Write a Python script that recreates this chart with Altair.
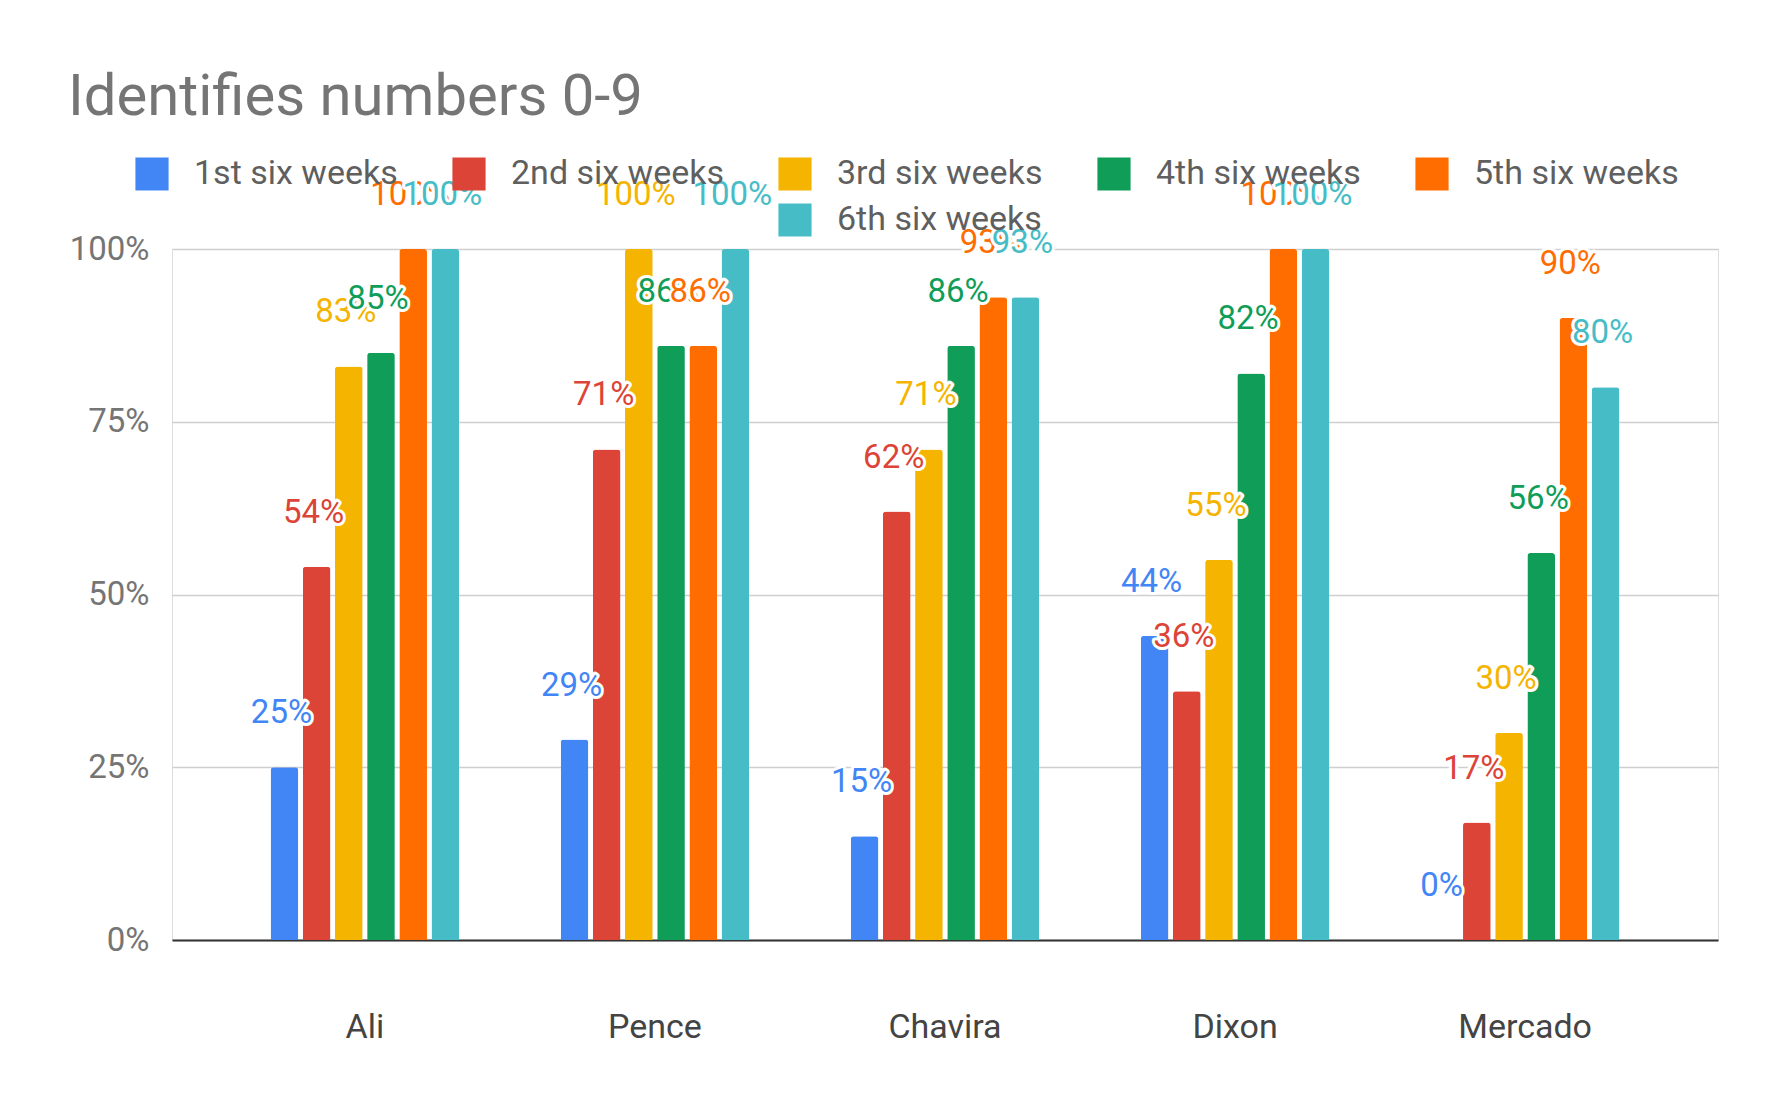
import altair as alt
import pandas as pd

students = ["Ali", "Pence", "Chavira", "Dixon", "Mercado"]
series = ["1st six weeks", "2nd six weeks", "3rd six weeks",
          "4th six weeks", "5th six weeks", "6th six weeks"]
first_six = [25, 29, 15, 44, 0]
second_six = [54, 71, 62, 36, 17]
third_six = [83, 100, 71, 55, 30]
fourth_six = [85, 86, 86, 82, 56]
fifth_six = [100, 86, 93, 100, 90]
sixth_six = [100, 100, 93, 100, 80]
colors = ["#4285F4", "#DB4437", "#F4B400", "#0F9D58", "#FF6D00", "#46BDC6"]
y_ticks = [0, 25, 50, 75, 100]
title_text = "Identifies numbers 0-9"

all_vals = [first_six, second_six, third_six, fourth_six, fifth_six, sixth_six]
rows = []
for s, vals in zip(series, all_vals):
    for st, v in zip(students, vals):
        rows.append({"student": st, "period": s, "pct": v})
df = pd.DataFrame(rows)

FONT = "Roboto"

x_enc = alt.X(
    "student:N", sort=students, title=None,
    scale=alt.Scale(domain=students, paddingInner=0.35, paddingOuter=0.34),
    axis=alt.Axis(labelFontSize=34, labelColor="#444444", labelFont=FONT,
                  labelPadding=70, ticks=False, domainColor="#333333",
                  domainWidth=2, labelAngle=0, grid=False),
)
xoff_enc = alt.XOffset("period:N", sort=series,
                       scale=alt.Scale(domain=series, paddingInner=0.14, paddingOuter=0))
y_enc = alt.Y(
    "pct:Q", title=None,
    scale=alt.Scale(domain=[0, 100], nice=False),
    axis=alt.Axis(values=y_ticks, labelExpr="datum.value + '%'",
                  labelFontSize=33, labelColor="#757575", labelFont=FONT,
                  labelPadding=23, ticks=False, domain=False,
                  gridColor="#cfcfcf", gridWidth=1.5),
)

base = alt.Chart(df)

legend_common = dict(
    orient="none", direction="horizontal", symbolType="square",
    symbolSize=1100, symbolStrokeWidth=0, labelFontSize=34,
    labelColor="#5f5f5f", labelFont=FONT, labelOffset=25, title=None,
    padding=0, labelLimit=400,
)

bars_a = base.transform_filter(
    alt.FieldOneOfPredicate(field="period", oneOf=series[:5])
).mark_bar(cornerRadiusTopLeft=3, cornerRadiusTopRight=3).encode(
    x=x_enc, xOffset=xoff_enc, y=y_enc,
    color=alt.Color("period:N", sort=series[:5],
                    scale=alt.Scale(domain=series[:5], range=colors[:5]),
                    legend=alt.Legend(columns=5, columnPadding=54,
                                      legendX=-37, legendY=-92, **legend_common)),
)

bars_b = base.transform_filter(
    alt.FieldEqualPredicate(field="period", equal=series[5])
).mark_bar(cornerRadiusTopLeft=3, cornerRadiusTopRight=3).encode(
    x=x_enc, xOffset=xoff_enc, y=y_enc,
    fill=alt.Fill("period:N",
                  scale=alt.Scale(domain=[series[5]], range=[colors[5]]),
                  legend=alt.Legend(legendX=606, legendY=-46, **legend_common)),
)

layers = [bars_a, bars_b]
for s, c in zip(series, colors):
    sub = base.transform_filter(alt.FieldEqualPredicate(field="period", equal=s))
    enc = dict(x=x_enc, xOffset=xoff_enc, y=y_enc,
               text=alt.Text("label:N"))
    halo = sub.transform_calculate(label="datum.pct + '%'").mark_text(
        font=FONT, fontSize=33, baseline="middle", align="center", dy=-54, dx=-3,
        color="white", stroke="white", strokeWidth=6, strokeJoin="round",
    ).encode(**enc)
    txt = sub.transform_calculate(label="datum.pct + '%'").mark_text(
        font=FONT, fontSize=33, baseline="middle", align="center", dy=-54, dx=-3,
        color=c,
    ).encode(**enc)
    layers += [halo, txt]

chart = alt.layer(*layers).properties(
    width=1546, height=691,
    autosize=alt.AutoSizeParams(type="none"),
    padding={"left": 164, "top": 241, "right": 47, "bottom": 150},
    title=alt.Title(title_text, anchor="start", frame="group", fontSize=58,
                    font=FONT, fontWeight="normal", color="#757575", dx=-104, dy=-26),
).configure_view(stroke=None).configure(background="white")

chart.save("out.html", embed_options={"renderer": "svg", "actions": False})
